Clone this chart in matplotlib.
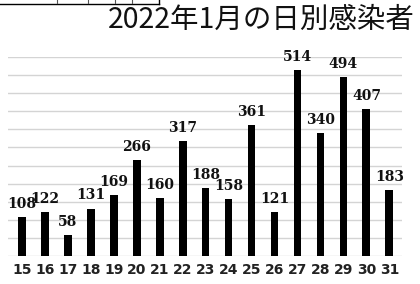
import matplotlib.pyplot as plt
from matplotlib.lines import Line2D

days = list(range(15, 32))
cases = [108, 122, 58, 131, 169, 266, 160, 317, 188, 158, 361, 121, 514, 340, 494, 407, 183]
title = "2022年1月の日別感染者"

W, H = 420, 284
fig = plt.figure(figsize=(W / 100, H / 100), dpi=100)
ax = fig.add_axes([8 / W, 28 / H, 394 / W, 199 / H])

ax.bar(days, cases, width=0.34, color="black", zorder=3)
for d, v in zip(days, cases):
    ax.annotate(str(v), (d, v), xytext=(0, 9.5), textcoords="offset points",
                ha="center", va="center", fontsize=10, fontweight="bold",
                family="DejaVu Serif", color="#111111", zorder=4)

ax.set_xlim(14.4, 31.55)
ax.set_ylim(0, 550)
ax.set_yticks(range(0, 551, 50))
ax.yaxis.grid(True, color="#d4d4d4", linewidth=1.0, zorder=0)
ax.set_yticklabels([])
ax.tick_params(axis="y", length=0)
ax.set_xticks(days)
ax.set_xticklabels([str(d) for d in days], fontsize=10, fontweight="bold", color="#222222")
ax.tick_params(axis="x", length=0, pad=5)
for s in ax.spines.values():
    s.set_visible(False)

fig.text(415 / W, 1 - 20 / H, title, ha="right", va="center", fontsize=20.5,
         family=["Noto Sans CJK JP", "DejaVu Sans"], color="#111111")

# cropped box at the top-left corner
fig.add_artist(Line2D([0, 159 / W], [1 - 3.5 / H, 1 - 3.5 / H], color="black", lw=1))
fig.add_artist(Line2D([159 / W, 159 / W], [1, 1 - 3.5 / H], color="black", lw=1))
for x in [57, 88, 115, 132]:
    fig.add_artist(Line2D([x / W, x / W], [1, 1 - 3 / H], color="#555555", lw=0.8))

fig.savefig("out.png", dpi=100)
